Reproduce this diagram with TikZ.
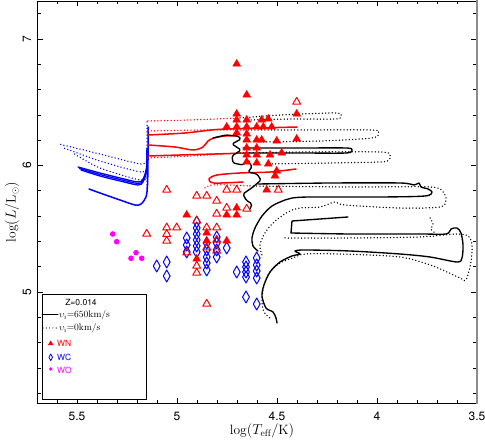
\documentclass[tikz,border=0pt]{standalone}
\usepackage{fontspec}
\newfontfamily\hvf{TeX Gyre Heros}
\definecolor{wnred}{RGB}{255,0,0}
\definecolor{wcblue}{RGB}{0,0,255}
\definecolor{womag}{RGB}{255,0,255}
\definecolor{axgray}{RGB}{140,140,140}
\begin{document}
\begin{tikzpicture}[x=1pt,y=-1pt,
  frame/.style={line width=0.8pt},
  tick/.style={line width=0.7pt},
  blk/.style={line width=1.35pt,line join=round,line cap=round},
  dots/.style={line width=1.5pt,dash pattern=on 0pt off 3.3pt,line cap=round},
  wnf/.style={fill=wnred,draw=wnred,line width=0.4pt,line join=round},
  wno/.style={draw=wnred,line width=1pt,line join=round},
  wco/.style={draw=wcblue,line width=1pt,line join=round},
  tlab/.style={font=\hvf\fontsize{12}{14}\selectfont},
  leg/.style={font=\hvf\fontsize{8.5}{10}\selectfont,inner sep=0pt}]
\path[use as bounding box] (0,0) rectangle (485,443);

% ---------- frame and ticks ----------
\draw[frame] (477,1) -- (37,1) -- (37,403.5) -- (477,403.5);
\foreach \i in {1,...,21}{
  \pgfmathsetmacro\tl{ifthenelse(mod(\i,5)==2,5,3)}
  \draw[tick] ({37+20*\i},403.5) -- ++(0,-\tl);
  \draw[tick] ({37+20*\i},1) -- ++(0,\tl);
}
\foreach \j in {-4,...,11}{
  \pgfmathsetmacro\tl{ifthenelse(mod(\j+10,5)==0,6,4)}
  \draw[tick] (37,{292-25.3*\j}) -- ++(\tl,0);
  \draw[tick] (477,{292-25.3*\j}) -- ++(-\tl,0);
}
\draw[axgray,line width=1.6pt] (477,0.5) -- (477,404.2);

\node[tlab] (xl55) at (77,416) {5.5};
\node[tlab] (xl50) at (177,416) {5};
\node[tlab] (xl45) at (277,416) {4.5};
\node[tlab] (xl40) at (377,416) {4};
\node[tlab] (xl35) at (477,416) {3.5};
\node[tlab,rotate=90] (yl7) at (27,39) {7};
\node[tlab,rotate=90] (yl6) at (27,165.5) {6};
\node[tlab,rotate=90] (yl5) at (27,292) {5};
\node[font=\fontsize{13.5}{15}\selectfont] (xt) at (262,431) {$\log(T_{\rm eff}/{\rm K})$};
\node[font=\fontsize{13.5}{15}\selectfont,rotate=90] (yt) at (12,212) {$\log(L/{\rm L}_\odot)$};

% ---------- blue (WC) parts ----------
\begin{scope}[wcblue]
\draw[blk,line width=1.5pt] plot[smooth,tension=0.5] coordinates {(148,127) (148,160) (147.5,185) (146,197) (141,204) (135,205) (120,200) (100,193) (89,189)};
\foreach \d in {0,1.5,3}
  \draw[blk,line width=1.3pt] plot[smooth,tension=0.5] coordinates {(147,148+\d) (146.5,168+\d) (143,179+\d) (138,182+\d) (120,178+\d) (100,173+\d) (78+\d,167+\d)};
\draw[dots] (147,122) -- (147,188);
\draw[dots] plot[smooth,tension=0.5] coordinates {(147,158) (141,164) (100,154) (59,144)};
\draw[dots] plot[smooth,tension=0.5] coordinates {(147,167) (141,172) (100,161) (64,148)};
\draw[dots] plot[smooth,tension=0.5] coordinates {(147,177) (140,180) (100,168) (73,153)};
\end{scope}

% ---------- red (WN) parts ----------
\begin{scope}[wnred]
\draw[blk,line width=1.5pt] plot[smooth,tension=0.5] coordinates {(148,135) (185,133) (217,129.5) (260,128) (297,127)};
\draw[blk,line width=1.5pt] plot[smooth,tension=0.5] coordinates {(148,145) (175,147) (193,150) (203,147) (208,141) (214,138) (225,136) (237,136)};
\draw[blk,line width=1.5pt] plot[smooth,tension=0.5] coordinates {(148,156) (180,155) (215,154) (245,153)};
\draw[blk,line width=1.5pt] plot[smooth,tension=0.5] coordinates {(296,169) (270,172) (240,173) (217,175) (209,179) (214,183) (243,182)};
\draw[dots] plot[smooth,tension=0.5] coordinates {(148,121) (190,120) (240,118)};
\draw[dots] plot[smooth,tension=0.5] coordinates {(148,131) (200,130) (245,130)};
\draw[dots] plot[smooth,tension=0.5] coordinates {(148,158) (190,156) (240,153)};
\draw[dots] plot[smooth,tension=0.5] coordinates {(205,188) (212,185) (230,185) (250,186)};
\end{scope}

% ---------- black parts ----------
\draw[dots] plot[smooth,tension=0.5] coordinates {(240,118) (280,115) (335,113) (341,116) (335,119) (290,119) (250,120)};
\draw[dots] plot[smooth,tension=0.5] coordinates {(245,130) (300,130) (372,130) (378,133) (372,138) (320,141) (262,142)};
\draw[dots] plot[smooth,tension=0.5] coordinates {(240,153) (300,152) (380,152) (390,155) (389,160) (380,162) (330,163) (270,164)};
\draw[dots] plot[smooth,tension=0.5] coordinates {(250,186) (350,187) (430,187) (443,192) (446,200) (440,207) (400,208) (345,205) (335,202) (320,207) (300,208) (288,212) (274,222) (265,233) (260,245) (262,255)};
\draw[dots] plot[smooth,tension=0.5] coordinates {(285,238) (350,238) (420,237) (455,234) (468,236) (472,245) (471,262) (466,280) (460,278) (433,266) (400,257) (340,254) (305,254) (293,258) (280,263) (270,272) (264,285) (262,300) (264,312) (270,318)};
\draw[dots] plot[smooth,tension=0.5] coordinates {(430,218) (433,224) (431,229) (435,233)};

\draw[blk,rounded corners=1.5pt] (213,138) -- (226,135) -- (238,136) -- (241,139) -- (232,144) -- (241,150) -- (232,156) -- (233,163) -- (243,165) -- (248,160) -- (252,167) -- (248,172) -- (257,174) -- (261,180) -- (253,187) -- (243,194) -- (246,200) -- (252,204) -- (250,209);
\draw[blk] plot[smooth,tension=0.5] coordinates {(243,148) (300,148) (346,148) (352,150) (346,153) (300,153) (245,153)};
\draw[blk] plot[smooth,tension=0.5] coordinates {(258,184) (330,183) (400,183) (414,185) (419,183) (421,187) (428,189) (432,192) (425,196) (380,197) (310,197) (292,198) (285,200) (272,206) (262,216) (255,228) (252,238) (253,246) (258,251)};
\draw[blk] (348,217) -- (320,219) -- (292,221) -- (291,233);
\draw[blk] plot[smooth,tension=0.5] coordinates {(291,233) (350,234) (420,234) (446,234) (451,229) (457,228) (461,233) (463,245) (462,258) (457,262) (430,257) (400,254) (350,251) (305,250) (295,251) (300,254) (292,256) (280,262) (270,272) (264,285) (262,296) (266,308) (273,312) (276,318) (277,323)};

% ---------- WC diamonds ----------
\foreach \p/\q in {186.7/238,186.7/245,186.7/252,
  196.7/222,196.7/228,196.7/234,196.7/240,196.7/246,196.7/252,
  206.7/243,206.7/250,206.7/257,206.7/263,206.7/270,
  216.7/237,216.7/243,216.7/250,216.7/257,226.7/248,
  156.7/266,166.7/262,166.7/276,236.7/272,
  246/262,246/267,246/272,246/277,
  256.7/258,256.7/265,256.7/271,256.7/278,
  246/297,256.7/304}
  \draw[wco] (\p,\q-6) -- (\p+3.4,\q) -- (\p,\q+6) -- (\p-3.4,\q) -- cycle;

% ---------- WN open triangles ----------
\foreach \p/\q in {296.7/101,166.7/189,196.7/195,206.7/195,226.7/189,236.7/189,278.3/189,
  146.7/233,166.7/226.7,166.7/233.3,166.7/240,176.7/226.7,
  196.7/220,206.7/226.7,216.7/226.7,216.7/239,
  186.7/251.7,196.7/265,196.7/272,206.7/246.7,216.7/250,206.7/303,
  216.7/200,226.7/207,246.7/208,216.7/213}
  \draw[wno] (\p-4,\q+3.2) -- (\p+4,\q+3.2) -- (\p,\q-3.6) -- cycle;

% ---------- WN filled triangles ----------
\foreach \p/\q in {236.7/63,246.7/94,296.7/113,236.7/113,
  236.7/119,246.7/119,261.7/119,268.3/118,
  226.7/126,236.7/126,246.7/126,256.7/126,263.3/126,271.7/126,
  236.7/132,246.7/133,
  246.7/139,256.7/139,261.7/139,276.7/140,296.7/138,
  246.7/147,256.7/147,
  246.7/154,256.7/154,270/154,281.7/152,
  246.7/161,256.7/162,268.3/163,
  276.7/170,275/175,266.7/189,
  236.7/207,186.7/214,226.7/214,236.7/214,
  206.7/232,206.7/240,226.7/240,196.7/258}
  \filldraw[wnf] (\p-4,\q+3.2) -- (\p+4,\q+3.2) -- (\p,\q-3.6) -- cycle;

% ---------- WO dots ----------
\foreach \p/\q in {112.7/234,116.7/241.7,136/252.7,131/258.3,141.7/258.3}
  \fill[womag] (\p,\q) circle[radius=2.8];

% ---------- legend ----------
\draw[frame,fill=white] (42,294) rectangle (146.7,399);
\node[leg] (lz) at (81,302) {Z=0.014};
\coordinate (ls1) at (42,315);
\coordinate (ls2) at (58,315);
\draw[blk,line width=1pt] (ls1) -- (ls2);
\node[anchor=west,inner sep=0pt,font=\fontsize{9.5}{11}\selectfont] (lsolid) at (59,315.5) {$\upsilon_{\rm i}$=650km/s};
\coordinate (ld1) at (43,328);
\coordinate (ld2) at (58,328);
\draw[dots,line width=1.2pt] (ld1) -- (ld2);
\node[anchor=west,inner sep=0pt,font=\fontsize{9.5}{11}\selectfont] (ldot) at (59,328.5) {$\upsilon_{\rm i}$=0km/s};
\filldraw[wnf] (48.3,345) -- (53.1,345) -- (50.7,340.8) -- cycle;
\node[leg,anchor=west,text=wnred] (lwn) at (57,343) {WN};
\draw[wco,line width=0.8pt] (50.7,354) -- (52.5,357.3) -- (50.7,360.6) -- (48.9,357.3) -- cycle;
\node[leg,anchor=west,text=wcblue] (lwc) at (57,357.5) {WC};
\fill[womag] (50.7,369) circle[radius=1.9];
\node[leg,anchor=west,text=womag] (lwo) at (57,370) {WO};
\end{tikzpicture}
\end{document}
